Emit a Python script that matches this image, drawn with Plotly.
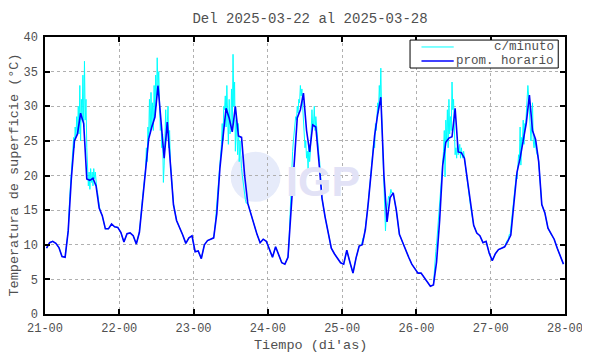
import plotly.graph_objects as go

# Hourly mean surface temperature (°C); value h is the mean of hour h (plotted at hh:30),
# starting 2025-03-21 00:00 -> one list per day
prom_horario_dias = [
    [9.5, 10.3, 10.5, 10.2, 9.6, 8.3, 8.2, 12.0, 19.5, 25.0, 26.0, 29.0,
     27.5, 19.5, 19.3, 19.6, 18.5, 15.3, 14.2, 12.3, 12.3, 13.0, 12.6, 12.5],
    [11.8, 10.4, 11.6, 11.7, 11.3, 10.1, 11.8, 16.0, 20.5, 25.3, 27.0, 28.4,
     33.0, 28.0, 22.5, 27.7, 21.0, 15.8, 13.5, 12.5, 11.4, 10.2, 11.0, 11.3],
    [9.0, 9.1, 8.0, 10.0, 10.6, 10.8, 11.0, 14.5, 21.0, 25.5, 29.7, 28.3,
     26.3, 30.0, 25.7, 25.5, 20.0, 16.0, 14.5, 12.8, 11.5, 10.3, 10.8, 10.5],
    [9.2, 8.2, 9.7, 8.5, 7.4, 7.2, 8.2, 15.0, 22.0, 28.3, 29.5, 31.9,
     26.5, 23.4, 27.3, 27.0, 22.0, 16.7, 14.0, 11.5, 9.5, 8.7, 8.0, 7.4],
    [7.2, 9.2, 7.5, 5.9, 8.1, 9.8, 10.0, 12.2, 16.3, 21.5, 25.8, 28.9,
     31.3, 20.0, 13.3, 16.8, 17.5, 15.0, 11.5, 10.4, 9.2, 8.2, 7.2, 6.5],
    [5.9, 5.9, 5.2, 4.5, 4.0, 4.2, 7.5, 13.5, 21.5, 24.8, 25.4, 25.6,
     29.7, 23.4, 23.3, 22.5, 19.0, 15.5, 12.8, 11.7, 11.3, 10.3, 10.5, 8.8],
    [7.7, 8.7, 9.3, 9.5, 9.7, 10.5, 11.4, 16.0, 20.5, 22.5, 25.0, 27.6,
     31.6, 26.5, 25.2, 22.0, 15.8, 14.6, 12.4, 11.5, 10.8, 9.5, 8.4, 7.2],
]

# Per-minute readings during the warm part of each day, sampled every 15 min
# starting at the hour given in minuto_inicio (hours after 00:00 of that day)
minuto_inicio = [8.0, 7.5, 7.0, 6.75, 6.25, 5.75, 5.25]
minuto_dia = [
    [17, 18.5, 20.5, 21.5, 23, 25.5, 24, 27, 25.5, 28.5, 26, 30, 26, 33, 25, 31,
     28, 34.5, 27, 36.5, 28, 31, 24, 22, 18.5, 20.5, 18, 21, 19, 20.5, 18.5, 21,
     19.5, 20.5, 18.5, 18, 17.5, 16.5, 15.5, 15, 14.7],
    [16.7, 18, 19.5, 20, 21, 24, 22, 27, 25.5, 31, 26, 32, 27, 30.5, 26.5, 33,
     28.5, 34.5, 30, 37, 33, 35, 29, 26.5, 27.5, 24, 26, 19, 21.5, 26, 29.5, 25,
     27.5, 30, 24, 26.5, 22, 20.5, 18.5, 17, 16],
    [13, 14.5, 16.5, 18, 19, 21, 22.5, 24, 24.5, 27.5, 25, 30, 29.5, 31.5, 27, 33,
     28.5, 24.5, 31, 26, 26.5, 32.5, 27, 37.5, 30, 33.5, 23.5, 28, 25.7, 23, 27.5, 22,
     25, 22.5, 21, 20, 19, 18, 17, 16.5, 16],
    [9.5, 12.5, 15.5, 18.5, 22, 23.5, 25, 26.5, 27.5, 28.5, 28, 30, 29, 31, 30.5, 33,
     31.5, 32.5, 30, 28, 26, 24, 25, 22.5, 23.5, 21, 24.5, 22, 23.4, 26, 29.5, 27,
     27.3, 30, 26.5, 28.5, 27, 25, 24, 23, 22],
    [10, 10.5, 11, 11, 11.5, 12.5, 13.5, 14, 15, 16.5, 17.5, 19, 20, 21.5, 23, 24,
     25, 24, 27.5, 26.5, 28, 30.5, 29, 33, 31, 35.5, 29, 25, 21.5, 17, 13.5, 12,
     14.5, 15.5, 16.5, 17, 16.5, 17.5, 18, 17.5, 17.5],
    [6.5, 7.5, 9, 10, 11.5, 13, 15, 16.5, 18, 20, 21.5, 22.5, 23.5, 26.5, 19.8, 28,
     25, 29.5, 24, 31, 26, 28.5, 26.5, 33.5, 29.5, 31, 25.5, 23, 24, 22.5, 25, 23,
     23.4, 24.5, 22.5, 24, 23.2, 22.5, 23.5, 22.5, 22],
    [10.6, 10.5, 11, 11.5, 11.4, 12.5, 13.5, 14.5, 15.5, 17, 18, 19, 20, 19.5, 21.5, 23,
     22, 27, 21.5, 25.5, 25, 28, 24.5, 27.5, 27, 29.5, 31, 33, 31.5, 29, 26, 25,
     27, 30.5, 25, 24, 25.4, 24, 23.5, 23, 23],
]

dias = ["21", "22", "23", "24", "25", "26", "27", "28"]
tick_labels = [d + "-00" for d in dias]
y_ticks = [0, 5, 10, 15, 20, 25, 30, 35, 40]
series_names = ["c/minuto", "prom. horario"]
series_colors = ["#00ffff", "#0000ff"]
titulo = "Del 2025-03-22 al 2025-03-28"
x_titulo = "Tiempo (di'as)"
y_titulo = "Temperatura de superficie (°C)"

# Hourly series (x in days, 21.0 = 21-00)
x_hor, y_hor = [], []
for d, vals in enumerate(prom_horario_dias):
    for h, v in enumerate(vals):
        x_hor.append(21 + d + (h + 0.5) / 24)
        y_hor.append(v)

# Per-minute series: detailed daytime samples, hourly values elsewhere
pts = []
for d, (t0, seg) in enumerate(zip(minuto_inicio, minuto_dia)):
    t1 = t0 + 0.25 * (len(seg) - 1)
    for h, v in enumerate(prom_horario_dias[d]):
        if h + 0.5 < t0 or h + 0.5 > t1:
            pts.append((21 + d + (h + 0.5) / 24, v))
    for i, v in enumerate(seg):
        pts.append((21 + d + (t0 + 0.25 * i) / 24, v))
pts.sort()
x_min = [p[0] for p in pts]
y_min = [p[1] for p in pts]

FONT = "Liberation Mono, Courier New, monospace"
GREY = "#505050"

fig = go.Figure()
fig.add_trace(go.Scatter(x=x_min, y=y_min, mode="lines", name=series_names[0],
                         line=dict(color=series_colors[0], width=1), showlegend=False))
fig.add_trace(go.Scatter(x=x_hor, y=y_hor, mode="lines", name=series_names[1],
                         line=dict(color=series_colors[1], width=1.6), showlegend=False))

axis_common = dict(showline=True, linecolor="black", linewidth=1.5, mirror="ticks",
                   ticks="inside", ticklen=5, tickcolor="black", tickwidth=1.5,
                   showgrid=True, gridcolor="#b0b0b0", griddash="dot", gridwidth=1,
                   zeroline=False, automargin=False,
                   tickfont=dict(family=FONT, size=12, color=GREY))

fig.update_layout(
    width=590, height=354,
    margin=dict(l=37, r=33, t=29, b=48, autoexpand=False),
    paper_bgcolor="white", plot_bgcolor="white",
    title=dict(text=titulo, x=(310 - 8) / 590, xref="container",
               y=1 - 10 / 354, yref="container", yanchor="middle", xanchor="center",
               font=dict(family=FONT, size=14, color=GREY)),
    xaxis=dict(range=[21, 28], tickvals=list(range(21, 29)), ticktext=tick_labels,
               ticklabelstandoff=2, **axis_common),
    yaxis=dict(range=[0, 40], tickvals=y_ticks, ticklabelstandoff=3, **axis_common),
    showlegend=False,
)

# Axis titles
fig.add_annotation(text=x_titulo, xref="paper", yref="paper", x=0.51, y=-0.1155,
                   xanchor="center", yanchor="middle", showarrow=False,
                   font=dict(family=FONT, size=13.5, color=GREY))
fig.add_annotation(text=y_titulo, xref="paper", yref="paper", x=-0.0596, y=0.5,
                   xanchor="center", yanchor="middle", showarrow=False, textangle=-90,
                   font=dict(family=FONT, size=13.5, color=GREY))

# Legend box (gnuplot style, text right-aligned)
fig.add_shape(type="rect", xref="paper", yref="paper", x0=0.702, x1=0.987,
              y0=0.888, y1=0.989, fillcolor="white", line=dict(color="black", width=1))
for k, (nm, col) in enumerate(zip(series_names, series_colors)):
    yy = 0.964 - k * 0.051
    fig.add_shape(type="line", xref="paper", yref="paper", x0=0.724, x1=0.786,
                  y0=yy, y1=yy, line=dict(color=col, width=1 if k == 0 else 1.5))
    fig.add_annotation(text=nm, xref="paper", yref="paper", x=0.983, y=yy,
                       xanchor="right", yanchor="middle", showarrow=False,
                       font=dict(family=FONT, size=12.5, color=GREY))

# IGP watermark
fig.add_shape(type="circle", xref="paper", yref="paper", x0=0.357, x1=0.453,
              y0=0.405, y1=0.586, fillcolor="#e6ebfa", line=dict(width=0), layer="below")
fig.add_annotation(text="<b>IGP</b>", xref="paper", yref="paper", x=0.534, y=0.48,
                   showarrow=False,
                   font=dict(family="Liberation Sans", size=43, color="#e2e2f6"))

fig.write_html("out.html")
